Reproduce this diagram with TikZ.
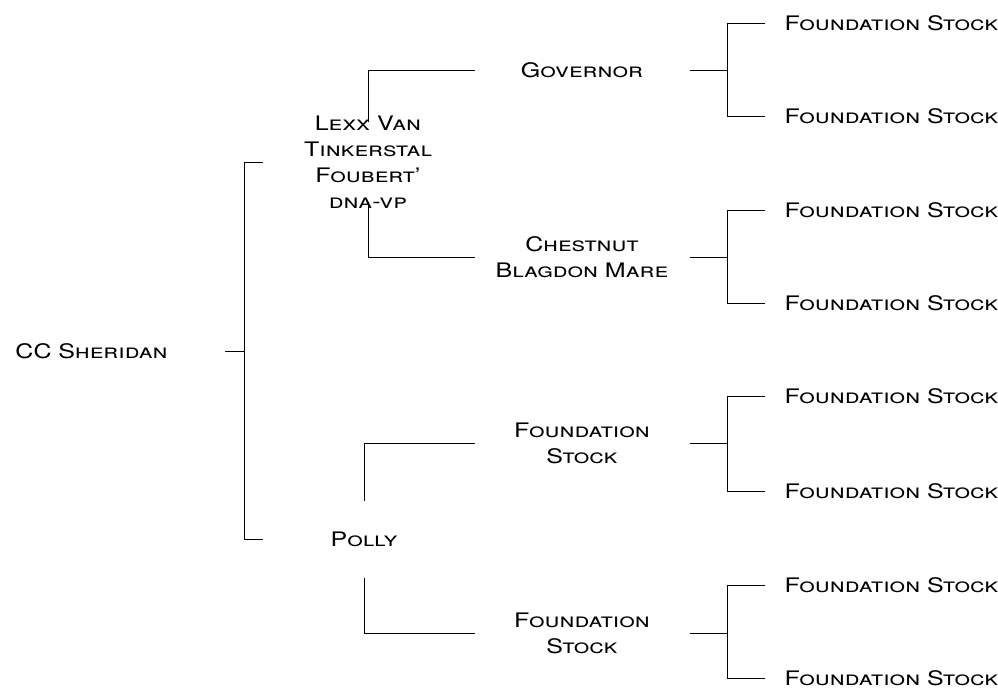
\documentclass[tikz,border=0pt]{standalone}
\usepackage{fontspec}
\setmainfont{TeX Gyre Heros}[FakeStretch=1.25]
\usetikzlibrary{positioning}

\begin{document}
\begin{tikzpicture}
      [x=1pt, y=-1pt, line width=1pt,
       every node/.style={font=\fontsize{20}{26}\selectfont\scshape, inner sep=0pt},
       oneline/.style={text height=14pt, text depth=0pt},
       horse/.style={minimum width=214pt, align=center},
       leaf/.style={oneline, anchor=west, inner xsep=19pt}]
      \useasboundingbox (0,0) rectangle (998,688);
      % leaves
      \foreach \n/\y in {1/23, 2/116, 3/210, 4/303, 5/396, 6/491, 7/585, 8/678}
        \node[leaf] (l\n) at (765,\y) {Foundation Stock};
      % parents of the parents
      \node[horse, oneline] (governor) at (582,70) {Governor};
      \node[horse] (chestnut) at (582,257) {Chestnut\\ Blagdon Mare};
      \node[horse] (founda) at (582,443) {Foundation\\ Stock};
      \node[horse] (foundb) at (582,633) {Foundation\\ Stock};
      \foreach \m/\a/\b in {governor/1/2, chestnut/3/4, founda/5/6, foundb/7/8} {
        \draw (\m.east) -- ++(38,0) coordinate (j);
        \draw (l\a.west) -| (j) |- (l\b.west);
      }
      % parents
      \node[align=center, outer ysep=-6pt] (lexx) at (368,162)
        {Lexx Van\\ Tinkerstal\\ Foubert'\\ dna-vp};
      \node[oneline, inner ysep=31pt] (polly) at (364,539) {Polly};
      \draw (governor.west) -| (lexx.north);
      \draw (chestnut.west) -| (lexx.south);
      \draw (founda.west) -| (polly.north);
      \draw (foundb.west) -| (polly.south);
      % the horse
      \node[oneline, anchor=west, text width=209pt, align=left] (root) at (15,351) {CC Sheridan};
      \draw (root.east) -- ++(19,0) coordinate (rj);
      \draw (rj |- lexx) ++(19,0) -- (rj |- lexx) -- (rj |- polly) -- ++(19,0);
\end{tikzpicture}
\end{document}
